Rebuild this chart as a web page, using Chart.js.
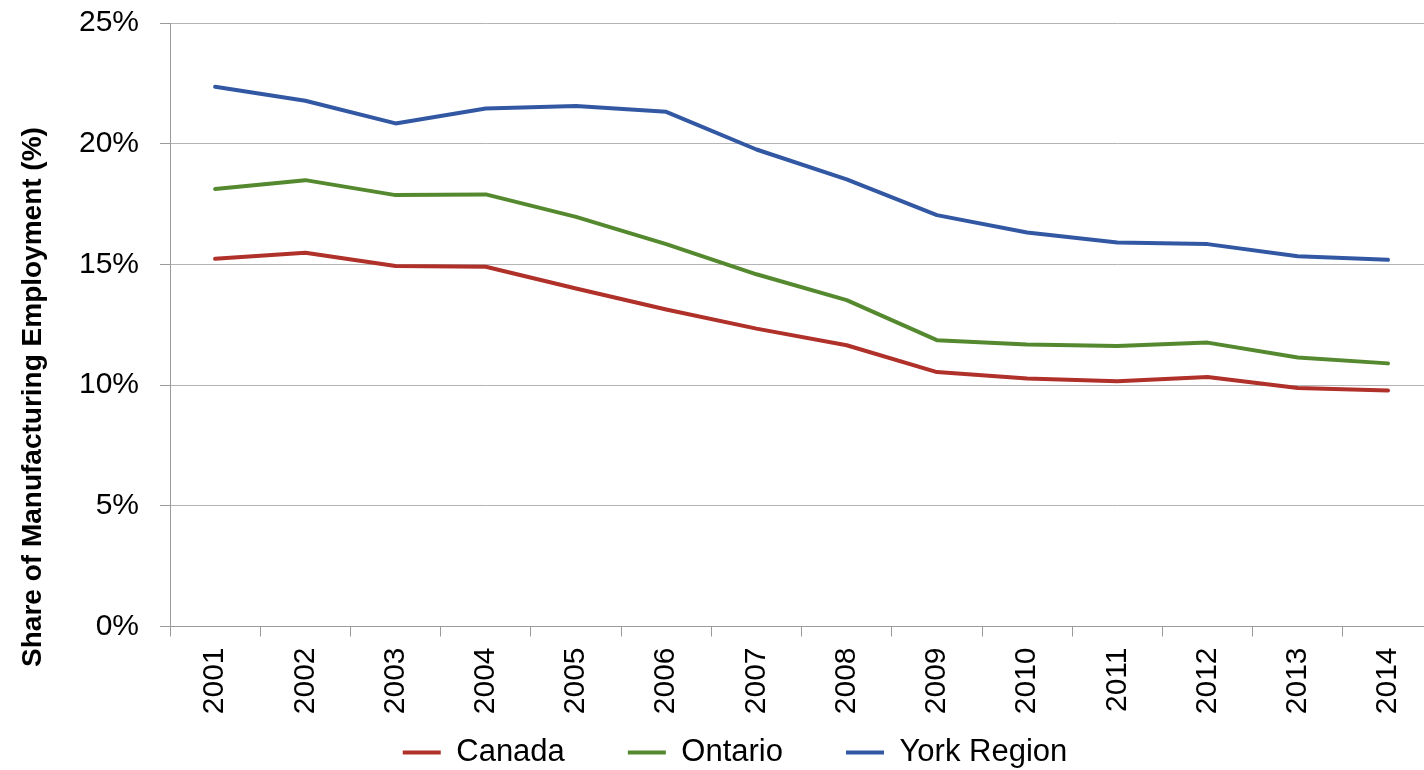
<!DOCTYPE html>
<html>
<head>
<meta charset="utf-8">
<script src="https://cdn.jsdelivr.net/npm/chart.js@4"></script>
<style>
  html, body { margin: 0; padding: 0; background: #ffffff; overflow: hidden; width: 1424px; height: 770px; }
  #wrap { width: 1435px; height: 778px; }
</style>
</head>
<body>
<div id="wrap"><canvas id="c" width="1435" height="778"></canvas></div>
<script>
const years = ['2001','2002','2003','2004','2005','2006','2007','2008','2009','2010','2011','2012','2013','2014'];
const canada = [15.23, 15.48, 14.93, 14.90, 14.00, 13.13, 12.34, 11.65, 10.54, 10.27, 10.16, 10.34, 9.88, 9.78];
const ontario = [18.12, 18.49, 17.87, 17.90, 16.97, 15.84, 14.59, 13.52, 11.86, 11.68, 11.62, 11.76, 11.14, 10.90];
const yorkRegion = [22.36, 21.78, 20.84, 21.46, 21.56, 21.32, 19.76, 18.52, 17.04, 16.32, 15.91, 15.84, 15.34, 15.19];
const seriesNames = ['Canada', 'Ontario', 'York Region'];
const yAxisTitle = 'Share of Manufacturing Employment (%)';

const FONT = '"Liberation Sans", Arial, sans-serif';
const PAD_LEFT = 35;

function ds(label, data, color) {
  return {
    label, data,
    borderColor: color, backgroundColor: color,
    borderWidth: 4, tension: 0, pointRadius: 0, pointHoverRadius: 0,
    borderCapStyle: 'round', borderJoinStyle: 'round', fill: false
  };
}

// y-axis title centred on the whole chart height (as in the reference)
const yTitlePlugin = {
  id: 'yTitle',
  afterDraw(chart) {
    const ctx = chart.ctx;
    ctx.save();
    ctx.translate(33, 397);
    ctx.rotate(-Math.PI / 2);
    ctx.font = 'bold 28px ' + FONT;
    ctx.fillStyle = '#000000';
    ctx.textAlign = 'center';
    ctx.textBaseline = 'middle';
    ctx.fillText(yAxisTitle, 0, 0);
    ctx.restore();
  }
};

new Chart(document.getElementById('c'), {
  type: 'line',
  data: {
    labels: years,
    datasets: [
      ds(seriesNames[0], canada, '#b0302a'),
      ds(seriesNames[1], ontario, '#55892f'),
      ds(seriesNames[2], yorkRegion, '#3358a3')
    ]
  },
  plugins: [yTitlePlugin],
  options: {
    responsive: false,
    animation: false,
    devicePixelRatio: 1,
    layout: { padding: { left: PAD_LEFT, right: 0, top: 23, bottom: 0 } },
    plugins: {
      legend: {
        position: 'bottom',
        title: { display: true, text: '', font: { size: 10 }, padding: { top: -27.25, bottom: -27.25 } },
        labels: {
          font: { family: FONT, size: 31 },
          color: '#000000',
          usePointStyle: true,
          pointStyle: 'line',
          pointStyleWidth: 38,
          padding: 63
        }
      },
      tooltip: { enabled: false }
    },
    scales: {
      x: {
        offset: true,
        afterFit(scale) { scale.height = 90; },
        grid: { offset: true, drawOnChartArea: false, drawTicks: true, tickLength: 10, color: '#9a9a9a' },
        border: { color: '#9a9a9a', width: 1 },
        ticks: {
          font: { family: FONT, size: 30 }, color: '#000000',
          maxRotation: 90, minRotation: 90, padding: 11, autoSkip: false
        }
      },
      y: {
        min: 0, max: 25,
        afterFit(scale) { scale.width = 170 - PAD_LEFT; scale.paddingTop = 0; scale.paddingBottom = 0; },
        grid: { color: '#b4b4b4', lineWidth: 1, drawTicks: true, tickLength: 10, tickColor: '#9a9a9a' },
        border: { color: '#9a9a9a', width: 1 },
        ticks: {
          stepSize: 5,
          font: { family: FONT, size: 30 }, color: '#000000', padding: 21,
          callback: (v) => v + '%'
        }
      }
    }
  }
});
</script>
</body>
</html>
